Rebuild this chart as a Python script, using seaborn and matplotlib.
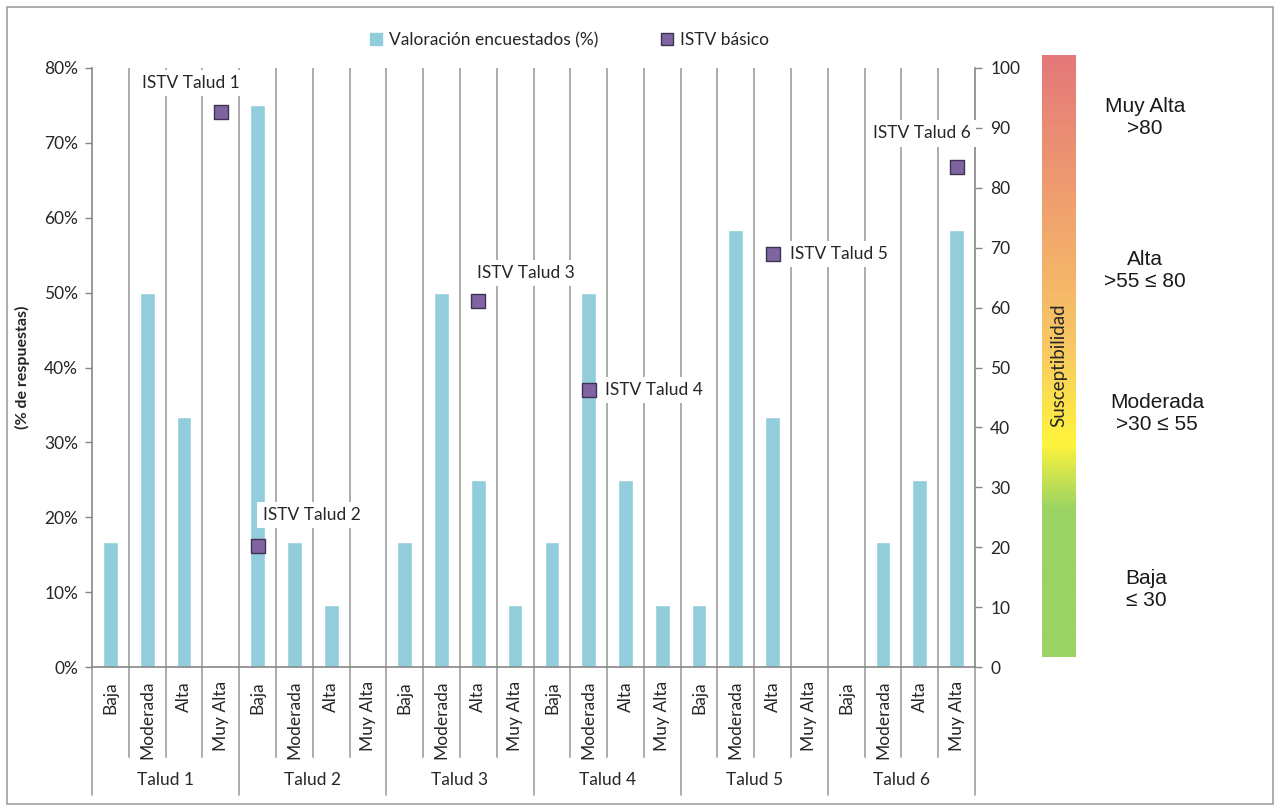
import numpy as np
import pandas as pd
import matplotlib
matplotlib.use("Agg")
import matplotlib.pyplot as plt
import matplotlib.transforms as mtransforms
import seaborn as sns
from matplotlib.colors import LinearSegmentedColormap
from matplotlib.lines import Line2D
from matplotlib.patches import Rectangle

# ---- data -------------------------------------------------------------
taludes = ["Talud 1", "Talud 2", "Talud 3", "Talud 4", "Talud 5", "Talud 6"]
niveles = ["Baja", "Moderada", "Alta", "Muy Alta"]

# survey ratings (% of answers) per slope, in the order of `niveles`
talud_1 = [16.67, 50.0, 33.33, 0.0]
talud_2 = [75.0, 16.67, 8.33, 0.0]
talud_3 = [16.67, 50.0, 25.0, 8.33]
talud_4 = [16.67, 50.0, 25.0, 8.33]
talud_5 = [8.33, 58.33, 33.33, 0.0]
talud_6 = [0.0, 16.67, 25.0, 58.33]

# basic ISTV index (0-100) per slope
istv_basico = [92.7, 20.2, 61.1, 46.2, 68.9, 83.4]

# susceptibility class limits
limites = [30, 55, 80]
clases_texto = ["Muy Alta\n>80", "Alta\n>55 \u2264 80", "Moderada\n>30 \u2264 55", "Baja\n\u2264 30"]

# ---- style --------------------------------------------------------------
sns.set_theme(style="white")
plt.rcParams["font.family"] = ["Lato", "DejaVu Sans"]

BAR = "#92CDDC"
SQ = "#8064A2"
SQ_EDGE = "#3F3151"
GRID = "#A6A6A6"
TXT = "#262626"
FS = 12.5

W, H = 1276, 808
fig = plt.figure(figsize=(W / 100, H / 100), dpi=100)

def fx(px):
    return px / W

def fy(py):
    return 1 - py / H

ax = fig.add_axes([fx(92), fy(667), fx(975 - 92), (667 - 68) / H])

series = [talud_1, talud_2, talud_3, talud_4, talud_5, talud_6]
rows = []
for t, vals in zip(taludes, series):
    for n, v in zip(niveles, vals):
        rows.append({"clave": f"{t}|{n}", "talud": t, "nivel": n, "valor": v})
df = pd.DataFrame(rows)
orden = list(df["clave"])

sns.barplot(data=df, x="clave", y="valor", order=orden, color=BAR,
            saturation=1, width=0.4, ax=ax, zorder=2)

n_cat = len(orden)
ax.set_xlim(-0.5, n_cat - 0.5)
ax.set_ylim(0, 80)
ax.set_yticks(np.arange(0, 81, 10))
ax.set_yticklabels([f"{v}%" for v in range(0, 81, 10)], fontsize=FS, color=TXT)
ax.set_ylabel("(% de respuestas)", fontsize=11.5, fontweight="bold", color=TXT, labelpad=10)
ax.set_xlabel("")
ax.set_xticks(range(n_cat))
ax.set_xticklabels(list(df["nivel"]), rotation=90, fontsize=FS, color=TXT)
ax.tick_params(axis="x", length=0, pad=10)
ax.tick_params(axis="y", length=5, width=1, color="#868686", direction="out", left=True, pad=5)

for side in ["top", "right"]:
    ax.spines[side].set_visible(False)
for side in ["left", "bottom"]:
    ax.spines[side].set_color("#868686")
    ax.spines[side].set_linewidth(1.2)

# category separators inside the plot
for k in range(n_cat - 1):
    ax.axvline(k + 0.5, color=GRID, lw=1.3, zorder=1)

# separators under the axis (short between levels, long between slopes)
trans = mtransforms.blended_transform_factory(ax.transData, ax.transAxes)
y_corto = (667 - 757) / (667 - 68)
y_largo = (667 - 795) / (667 - 68)
for k in range(n_cat + 1):
    ybot = y_largo if k % 4 == 0 else y_corto
    ax.plot([k - 0.5, k - 0.5], [0, ybot], color=GRID, lw=1.3,
            transform=trans, clip_on=False)
for g, t in enumerate(taludes):
    ax.text(4 * g + 1.5, (667 - 780) / (667 - 68), t, transform=trans,
            ha="center", va="center", fontsize=FS, color=TXT)

# ---- ISTV on secondary axis ----------------------------------------------
ax2 = ax.twinx()
ax2.set_ylim(0, 100)
ax2.set_yticks(np.arange(0, 101, 10))
ax2.set_yticklabels([str(v) for v in range(0, 101, 10)], fontsize=FS, color=TXT)
ax2.tick_params(axis="y", length=5, width=1, color="#868686", direction="out", right=True, pad=6)
for side in ["top", "left", "bottom"]:
    ax2.spines[side].set_visible(False)
ax2.spines["right"].set_color("#868686")
ax2.spines["right"].set_linewidth(1.2)
ax2.grid(False)


def nivel_de(v):
    if v <= limites[0]:
        return 0
    if v <= limites[1]:
        return 1
    if v <= limites[2]:
        return 2
    return 3


x_istv = [4 * g + nivel_de(v) for g, v in enumerate(istv_basico)]
sns.scatterplot(x=x_istv, y=istv_basico, marker="s", s=95, color=SQ,
                edgecolor=SQ_EDGE, linewidth=1, ax=ax2, zorder=5, legend=False)
ax2.set_xlim(-0.5, n_cat - 0.5)

# label offsets in pixels relative to each marker
offsets = [(-30, 29), (54, 31), (48, 28), (65, 0), (66, 0), (-35, 34)]
for g, (x, v) in enumerate(zip(x_istv, istv_basico)):
    ax2.annotate(f"ISTV {taludes[g]}", xy=(x, v), xytext=offsets[g],
                 textcoords="offset pixels", ha="center", va="center",
                 fontsize=FS, color=TXT, zorder=6,
                 bbox=dict(boxstyle="square,pad=0.3", fc="white", ec="none"))

# ---- legend ----------------------------------------------------------------
handles = [
    Line2D([], [], ls="none", marker="s", ms=8, mfc=BAR, mec=BAR),
    Line2D([], [], ls="none", marker="s", ms=8, mfc=SQ, mec=SQ_EDGE),
]
fig.legend(handles, ["Valoraci\u00f3n encuestados (%)", "ISTV b\u00e1sico"],
           loc="center", bbox_to_anchor=(fx(569), fy(40)), ncol=2, frameon=False,
           fontsize=FS, handlelength=0.8, handletextpad=0.3, columnspacing=3.6,
           labelcolor=TXT)

# ---- susceptibility colour scale -------------------------------------------
cmap = LinearSegmentedColormap.from_list(
    "suscept",
    [(0.0, "#9BD464"), (0.245, "#9BD464"), (0.355, "#FFF43C"),
     (0.52, "#F8C764"), (0.7, "#F2A96C"), (1.0, "#E5787A")])
cax = fig.add_axes([fx(1042), fy(657), fx(34), (657 - 55) / H])
grad = np.linspace(0, 1, 400).reshape(-1, 1)
cax.imshow(grad, aspect="auto", cmap=cmap, origin="lower", extent=[0, 1, 0, 1])
cax.set_axis_off()
cax.text(0.5, (657 - 365) / (657 - 55), "Susceptibilidad", rotation=90,
         ha="center", va="center", fontsize=13.5, color=TXT, transform=cax.transAxes)

pos_clases = [(1145, 118), (1145, 270), (1157, 413), (1146, 590)]
for txt, (px, py) in zip(clases_texto, pos_clases):
    fig.text(fx(px), fy(py), txt, ha="center", va="center", fontsize=15,
             family=["Liberation Sans", "DejaVu Sans"], color="#1a1a1a",
             linespacing=1.2)

# outer frame
fig.patches.append(Rectangle((fx(7), fy(804)), fx(1273 - 7), (804 - 7) / H,
                             transform=fig.transFigure, fill=False,
                             ec="#A0A0A0", lw=1.2))

fig.savefig("out.png", dpi=100)
